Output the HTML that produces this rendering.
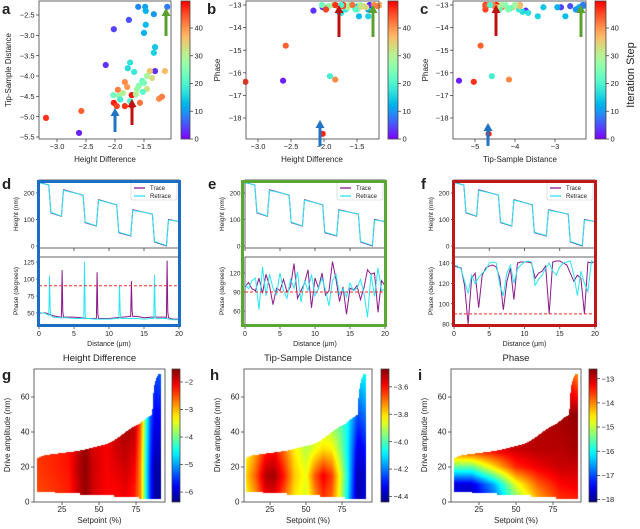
<!DOCTYPE html>
<html><head><meta charset="utf-8">
<style>
html,body{margin:0;padding:0;background:#fff;}
#wrap{position:relative;width:640px;height:529px;overflow:hidden;font-family:"Liberation Sans",sans-serif;}
svg{position:absolute;left:0;top:0;}
canvas{position:absolute;}
</style></head>
<body>
<div id="wrap">
<canvas id="hg" width="131" height="133" style="left:34px;top:369px"></canvas>
<canvas id="hh" width="128" height="133" style="left:244px;top:369px"></canvas>
<canvas id="hi" width="130" height="133" style="left:451px;top:369px"></canvas>
<svg id="fig" width="640" height="529" viewBox="0 0 640 529"></svg>
</div>
<script>
// ---------- scatter data (panels a-c) ----------
const heightDiff=[-3.19,-2.58,-2.62,-2.16,-2.02,-1.76,-1.6,-1.48,-1.47,-1.33,-1.1,-1.47,-1.5,-1.31,-1.33,-1.74,-1.78,-1.67,-1.31,-1.4,-1.14,-1.36,-1.45,-1.53,-1.83,-1.79,-1.59,-1.5,-1.45,-1.95,-1.62,-1.52,-2.03,-1.93,-1.86,-1.71,-1.64,-1.91,-2.02,-1.97,-1.83,-1.71,-1.57,-1.24,-1.19,-1.74];
const tipSample=[-5.03,-4.86,-5.4,-3.73,-2.85,-2.62,-2.3,-2.3,-2.4,-2.48,-2.3,-2.74,-2.94,-3.29,-3.43,-3.67,-3.81,-3.9,-3.88,-3.88,-3.88,-4.05,-4.0,-4.12,-4.15,-4.27,-4.24,-4.17,-4.32,-4.34,-4.32,-4.39,-4.47,-4.49,-4.42,-4.47,-4.45,-4.58,-4.66,-4.74,-4.74,-4.74,-4.66,-4.56,-4.51,-4.62];
const phaseVals=[-16.4,-14.8,-16.35,-13.25,-13.1,-13.05,-13.0,-13.05,-13.1,-13.2,-13.0,-13.5,-13.1,-13.1,-13.5,-13.35,-13.3,-13.2,-13.0,-13.05,-13.0,-13.1,-13.0,-13.15,-16.3,-13.05,-13.0,-13.2,-13.1,-13.1,-13.0,-13.2,-13.0,-13.05,-13.0,-13.0,-13.1,-16.15,-18.7,-13.2,-13.0,-13.05,-13.0,-13.0,-13.05,-13.0];
const iterStep=[46,43,2,3,4,5,9,11,12,10,8,13,12,14,15,17,16,18,3,35,36,33,28,22,40,39,25,24,32,41,27,21,23,26,30,48,29,19,47,45,46,44,42,40,41,20];
// ---------- trace data (panels d-f) ----------
const heightX=[0,1.4,1.7,3.2,3.5,6.3,6.6,8.2,8.5,11.1,11.4,13.1,13.4,16.2,16.5,18.2,18.5,20];
const heightTrace=[240,230,125,112,212,192,88,75,175,155,50,38,137,120,15,0,100,92];
const heightRetrace=[238,231,127,113,210,193,90,76,173,156,52,39,135,121,17,2,98,93];
const phaseDX=[0,1,2,3,4,5,6,7,8,9,10,11,12,13,14,15,16,17,18,19,20];
const phaseDTrace=[50,50,46,44,44,44,43,42,42,42,42,43,44,45,45,43,44,44,44,41,41];
const phaseDRetrace=[51,49,44,43,43,42,42,42,41,41,41,42,42,42,42,41,42,42,42,40,40];
const spikeTraceX=[3.3,8.3,13.2,18.3];
const spikeTraceY=[113,110,97,127];
const spikeRetraceX=[1.5,6.5,11.5,16.5];
const spikeRetraceY=[105,125,91,106];
const phaseEX=[0,0.5,1,1.5,2,2.5,3,3.5,4,4.5,5,5.5,6,6.5,7,7.5,8,8.5,9,9.5,10,10.5,11,11.5,12,12.5,13,13.5,14,14.5,15,15.5,16,16.5,17,17.5,18,18.5,19,19.5,20];
const phaseETrace=[98,105,95,92,112,88,118,100,70,96,92,110,90,98,135,80,92,104,125,65,112,96,120,85,92,138,110,75,98,55,96,93,100,78,97,125,118,120,58,108,100];
const phaseERetrace=[102,95,108,112,62,130,84,118,96,86,120,92,80,110,96,122,74,108,92,118,84,96,112,93,68,108,118,86,95,82,104,92,96,110,88,50,118,83,128,92,95];
const phaseFTrace=[137,136,135,118,80,125,130,96,128,135,137,138,136,125,94,122,135,104,140,141,141,141,140,125,130,132,137,90,141,142,142,140,138,130,122,128,125,90,141,140,141];
const phaseFRetrace=[138,137,134,122,110,128,120,126,130,133,140,141,140,118,108,130,138,120,134,138,141,142,141,118,124,128,135,140,132,128,136,140,141,142,128,108,132,120,112,142,140];
// ---------- heatmap data (panels g-i) ----------
const gSet=[8,20,30,36,41,46,55,62,68,74,78,80,82,85,88,92];
const gAmp=[0,20,45,75];
const gVals=[
 [-2.5,-2.4,-2.3,-1.9,-1.65,-1.95,-2.15,-2.2,-2.1,-2.3,-2.8,-3.6,-4.6,-5.6,-6.2,-6.2],
 [-2.4,-2.3,-2.2,-1.8,-1.6,-1.9,-2.1,-2.0,-1.9,-2.1,-2.8,-3.6,-4.6,-5.6,-6.2,-6.1],
 [-2.4,-2.3,-2.2,-1.9,-1.7,-2.0,-2.1,-1.8,-1.7,-1.8,-2.6,-3.4,-4.4,-5.4,-5.9,-5.8],
 [-2.4,-2.3,-2.2,-1.9,-1.7,-2.0,-2.1,-1.8,-1.7,-1.8,-2.6,-3.4,-4.4,-5.2,-5.4,-5.3]];
const hSet=[8,15,22,28,35,42,50,56,62,68,73,78,82,86,92];
const hAmp=[0,15,30,50,75];
const hVals=[
 [-3.85,-3.75,-3.6,-3.6,-3.7,-3.82,-3.88,-3.75,-3.65,-3.7,-3.85,-4.05,-4.25,-4.4,-4.35],
 [-3.8,-3.68,-3.52,-3.5,-3.62,-3.78,-3.85,-3.68,-3.58,-3.65,-3.82,-4.02,-4.22,-4.4,-4.35],
 [-3.85,-3.75,-3.62,-3.6,-3.7,-3.82,-3.9,-3.85,-3.8,-3.82,-3.92,-4.05,-4.2,-4.35,-4.3],
 [-3.9,-3.85,-3.8,-3.8,-3.85,-3.9,-3.95,-3.95,-3.95,-3.98,-4.0,-4.05,-4.15,-4.25,-4.2],
 [-3.9,-3.85,-3.8,-3.8,-3.85,-3.9,-3.95,-3.95,-3.95,-3.98,-4.0,-4.05,-4.1,-4.1,-4.05]];
const iSet=[8,20,35,50,65,80,92];
const iAmp=[0,10,20,30,50,75];
const iVals=[
 [-17.5,-17.8,-17.0,-15.5,-14.3,-13.6,-13.5],
 [-17.6,-17.6,-16.5,-14.8,-13.8,-13.3,-13.2],
 [-15.5,-15.5,-14.5,-13.5,-13.2,-13.0,-13.0],
 [-13.5,-13.3,-13.2,-13.0,-12.9,-12.9,-12.8],
 [-13.0,-13.0,-13.0,-13.0,-12.9,-12.8,-12.7],
 [-13.0,-13.0,-13.0,-13.0,-13.0,-13.2,-14.2]];
const envSet=[8,12,20,30,38,45,55,60,68,73,78,82,86,86.5,87.5,88.5,90,92];
const envTop=[25,26.5,27.5,28.5,29.5,31,33,35,40,43,45,48,50,60,67,70,73,73];
const envBotSet=[8,20,20.01,37,37.01,60,60.01,77,77.01,92];
const envBot=[6,6,5,5,4,4,3,3,2,2];

// ---------- helpers ----------
const NS='http://www.w3.org/2000/svg';
const svg=document.getElementById('fig');
function mk(tag,attrs,name,parent){
 const el=document.createElementNS(NS,tag);
 for(const k in attrs) el.setAttribute(k,attrs[k]);
 
 
 (parent||svg).appendChild(el);return el;}
function txt(x,y,s,name,o){o=o||{};
 const el=mk('text',{x:x,y:y,'font-size':o.fs||7.5,'text-anchor':o.anchor||'middle',fill:o.fill||'#222','font-weight':o.fw||'normal','font-family':'Liberation Sans, sans-serif'},name);
 if(o.rot) el.setAttribute('transform','rotate(-90 '+x+' '+y+')');
 el.textContent=s;return el;}
function lin(d0,d1,r0,r1){return v=>r0+(v-d0)*(r1-r0)/(d1-d0);}
function rainbow(t){t=Math.max(0,Math.min(1,t));return [Math.abs(2*t-0.5),Math.sin(Math.PI*t),Math.cos(Math.PI*t/2)].map(v=>Math.round(255*Math.max(0,Math.min(1,v))));}
function jet(t){t=Math.max(0,Math.min(1,t));const c=x=>Math.round(255*Math.max(0,Math.min(1,x)));return [c(1.5-Math.abs(4*t-3)),c(1.5-Math.abs(4*t-2)),c(1.5-Math.abs(4*t-1))];}
function rgb(a){return 'rgb('+a.join(',')+')';}
function interp(xs,ys,x){if(x<=xs[0])return ys[0];for(let i=1;i<xs.length;i++){if(x<=xs[i]){const t=(x-xs[i-1])/(xs[i]-xs[i-1]);return ys[i-1]+t*(ys[i]-ys[i-1]);}}return ys[ys.length-1];}
function box(x0,y0,x1,y1,name){mk('rect',{x:x0,y:y0,width:x1-x0,height:y1-y0,fill:'none',stroke:'#555','stroke-width':0.9},name);}
function xticks(vals,sx,y,name,labels,fs){vals.forEach((v,i)=>{mk('line',{x1:sx(v),x2:sx(v),y1:y,y2:y+3,stroke:'#444','stroke-width':0.8},name+'-tick');txt(sx(v),y+10,labels?labels[i]:String(v).replace('-','−'),name+'-label',{fs:fs||7.5});});}
function yticks(vals,sy,x,name,labels,fs){vals.forEach((v,i)=>{mk('line',{x1:x-3,x2:x,y1:sy(v),y2:sy(v),stroke:'#444','stroke-width':0.8},name+'-tick');txt(x-4.5,sy(v)+2.6,labels?labels[i]:String(v).replace('-','−'),name+'-label',{fs:fs||7.5,anchor:'end'});});}
function colorbar(x0,x1,y0,y1,cmap,name,ticks,sy,labels){
 const id='g'+name;const defs=mk('defs',{},name+'-defs');
 const g=mk('linearGradient',{id:id,x1:0,y1:1,x2:0,y2:0},name+'-gradient',defs);
 for(let i=0;i<=20;i++){mk('stop',{offset:(i/20),'stop-color':rgb(cmap(i/20))},name+'-stop',g);}
 mk('rect',{x:x0,y:y0,width:x1-x0,height:y1-y0,fill:'url(#'+id+')',stroke:'#444','stroke-width':0.8},name);
 ticks.forEach((v,i)=>{mk('line',{x1:x1,x2:x1+3,y1:sy(v),y2:sy(v),stroke:'#444','stroke-width':0.8},name+'-tick');txt(x1+4.5,sy(v)+2.6,labels[i],name+'-label',{anchor:'start'});});}
function arrow(x,yTail,yHead,color,name){mk('line',{x1:x,x2:x,y1:yTail,y2:yHead+7,stroke:color,'stroke-width':3},name);mk('polygon',{points:(x-4.5)+','+(yHead+8)+' '+(x+4.5)+','+(yHead+8)+' '+x+','+yHead,fill:color},name+'-head');}
function pl(pts,color,name,w,extra){const a={points:pts.map(p=>p[0].toFixed(2)+','+p[1].toFixed(2)).join(' '),fill:'none',stroke:color,'stroke-width':w||1};for(const k in extra||{})a[k]=extra[k];return mk('polyline',a,name);}

// ---------- panels a-c ----------
const colIter=lin(0,49,0,1);
function scatterPanel(id,xv,yv,sx,sy,x0,x1,clip){
 const cid='clip'+id;const defs=mk('defs',{},id+'-defs');
 const cp=mk('clipPath',{id:cid},id+'-clip',defs);mk('rect',{x:x0-3,y:0,width:x1-x0+6,height:142},id+'-cliprect',cp);
 const g=mk('g',{'clip-path':'url(#'+cid+')'},id+'-points');
 xv.forEach((v,i)=>{mk('circle',{cx:sx(v),cy:sy(yv[i]),r:3.1,fill:rgb(rainbow(colIter(iterStep[i])))},id+'-point',g);});
}
// a
const axA=lin(-2,-1.5,115,144), ayA=lin(-2.5,-5.5,15,137);
scatterPanel('panel-a',heightDiff,tipSample,axA,ayA,39,171);
box(39,1,171,139,'panel-a-axes');
xticks([-3,-2.5,-2,-1.5],axA,139,'panel-a-x',['−3.0','−2.5','−2.0','−1.5']);
yticks([-2.5,-3,-3.5,-4,-4.5,-5,-5.5],ayA,39,'panel-a-y',['−2.5','−3.0','−3.5','−4.0','−4.5','−5.0','−5.5']);
txt(105,162,'Height Difference','panel-a-x-title',{fs:8});
txt(11,70,'Tip-Sample Distance','panel-a-y-title',{fs:8,rot:1});
const cbY=lin(0,40,139,28);
colorbar(181,190,1,139,rainbow,'panel-a-colorbar',[0,10,20,30,40],cbY,['0','10','20','30','40']);
arrow(115,132,108,'#1f74c4','panel-a-blue-arrow');arrow(132,125,99,'#c01010','panel-a-red-arrow');arrow(166,36,8,'#5aa02c','panel-a-green-arrow');
txt(2,14,'a','panel-a-letter',{fs:15,fw:'bold',anchor:'start'});
// b
const axB=lin(-1.5,-3,357,258), ayB=lin(-13,-18,5,118);
scatterPanel('panel-b',heightDiff,phaseVals,axB,ayB,246,379);
box(246,1,379,139,'panel-b-axes');
xticks([-3,-2.5,-2,-1.5],axB,139,'panel-b-x',['−3.0','−2.5','−2.0','−1.5']);
yticks([-13,-14,-15,-16,-17,-18],ayB,246,'panel-b-y');
txt(312,162,'Height Difference','panel-b-x-title',{fs:8});
txt(220,70,'Phase','panel-b-y-title',{fs:8,rot:1});
colorbar(388,398,1,139,rainbow,'panel-b-colorbar',[0,10,20,30,40],cbY,['0','10','20','30','40']);
arrow(320,146,120,'#1f74c4','panel-b-blue-arrow');arrow(339,37,5,'#c01010','panel-b-red-arrow');arrow(373,37,5,'#5aa02c','panel-b-green-arrow');
txt(207,14,'b','panel-b-letter',{fs:15,fw:'bold',anchor:'start'});
// c
const axC=lin(-5,-3,475,555);
scatterPanel('panel-c',tipSample,phaseVals,axC,ayB,453,586);
box(453,1,586,139,'panel-c-axes');
xticks([-5,-4,-3],axC,139,'panel-c-x');
yticks([-13,-14,-15,-16,-17,-18],ayB,453,'panel-c-y');
txt(520,162,'Tip-Sample Distance','panel-c-x-title',{fs:8});
txt(428,70,'Phase','panel-c-y-title',{fs:8,rot:1});
colorbar(595,606,1,139,rainbow,'panel-c-colorbar',[0,10,20,30,40],cbY,['0','10','20','30','40']);
txt(634,75,'Iteration Step','colorbar-title',{fs:11,rot:1});
arrow(488,146,123,'#1f74c4','panel-c-blue-arrow');arrow(496,36,5,'#c01010','panel-c-red-arrow');arrow(581,37,5,'#5aa02c','panel-c-green-arrow');
txt(420,14,'c','panel-c-letter',{fs:15,fw:'bold',anchor:'start'});

// ---------- panels d-f ----------
function spiky(baseX,baseY,sX,sY){const pts=[];const all=[];baseX.forEach((x,i)=>all.push([x,baseY[i]]));
 sX.forEach((x,i)=>{const b=interp(baseX,baseY,x);all.push([x-0.1,b]);all.push([x,sY[i]]);all.push([x+0.1,b+8]);all.push([x+0.2,b]);});
 all.sort((a,b)=>a[0]-b[0]);return all;}
function tracePanel(id,x0,x1,border,bcol,phaseTicks,sp,hTr,hRe,pTr,pRe,pX,letterX){
 const sx=lin(0,20,x0,x1), sh=lin(0,200,246,193);
 const cid='clip'+id;const defs=mk('defs',{},id+'-defs');
 const c1=mk('clipPath',{id:cid+'t'},id+'-clip-top',defs);mk('rect',{x:x0,y:180,width:x1-x0,height:68},id+'-cr1',c1);
 const c2=mk('clipPath',{id:cid+'b'},id+'-clip-bottom',defs);mk('rect',{x:x0,y:257,width:x1-x0,height:69},id+'-cr2',c2);
 const gt=mk('g',{'clip-path':'url(#'+cid+'t)'},id+'-height-lines');
 pl(heightX.map((x,i)=>[sx(x),sh(hTr[i])]),'#8b1a8b',id+'-height-trace',gt,1.1);
 pl(heightX.map((x,i)=>[sx(x),sh(hRe[i])]),'#2ae6f2',id+'-height-retrace',gt,1.1);
 box(x0,180,x1,248,id+'-height-axes');box(x0,257,x1,326,id+'-phase-axes');
 [0,5,10,15].forEach(v=>mk('line',{x1:sx(v),x2:sx(v),y1:248,y2:251,stroke:'#444','stroke-width':0.8},id+'-height-xtick'));
 yticks([0,100,200],sh,x0,id+'-height-y',null,6.5);
 const gb=mk('g',{'clip-path':'url(#'+cid+'b)'},id+'-phase-lines');
 pl(pTr.map(p=>[sx(p[0]),sp(p[1])]),'#8b1a8b',id+'-phase-trace',gb,1);
 pl(pRe.map(p=>[sx(p[0]),sp(p[1])]),'#2ae6f2',id+'-phase-retrace',gb,1);
 mk('line',{x1:x0,x2:x1,y1:sp(90),y2:sp(90),stroke:'#ff2a2a','stroke-width':1,'stroke-dasharray':'3,2'},id+'-threshold-line');
 yticks(phaseTicks,sp,x0,id+'-phase-y',null,6.5);
 xticks([0,5,10,15,20],sx,326,id+'-x',null,7);
 txt((x0+x1)/2,346,'Distance (μm)','',{fs:7});
 
 txt(x0-21,214,'Height (nm)',id+'-height-title',{fs:6.5,rot:1});
 txt(x0-21,291,'Phase (degrees)',id+'-phase-title',{fs:6.5,rot:1});
 // legend
 const lx=x1-48;mk('rect',{x:lx,y:182,width:46,height:18,fill:'#fff',stroke:'#ccc','stroke-width':0.6,rx:1.5},id+'-legend');
 mk('line',{x1:lx+3,x2:lx+14,y1:188,y2:188,stroke:'#8b1a8b','stroke-width':1.3},id+'-legend-trace-swatch');
 txt(lx+19,190.2,'Trace',id+'-legend-trace',{fs:6,anchor:'start'});
 mk('line',{x1:lx+3,x2:lx+14,y1:196,y2:196,stroke:'#2ae6f2','stroke-width':1.3},id+'-legend-retrace-swatch');
 txt(lx+19,198.2,'Retrace',id+'-legend-retrace',{fs:6,anchor:'start'});
 mk('rect',border,id+'-border').setAttribute('style','fill:none;stroke:'+bcol+';stroke-width:3');
 txt(letterX,189,id.slice(-1),id+'-letter',{fs:15,fw:'bold',anchor:'start'});
}
const spD=lin(50,125,313,262), spE=lin(90,120,292,273), spF=lin(140,80,263,324);
tracePanel('panel-d',39,179,{x:38.5,y:181.5,width:141,height:144},'#1a6fc4',[50,75,100,125],spD,heightTrace,heightRetrace,
 spiky(phaseDX,phaseDTrace,spikeTraceX,spikeTraceY),spiky(phaseDX,phaseDRetrace,spikeRetraceX,spikeRetraceY),phaseDX,2);
const fHTr=heightTrace.slice(), fHRe=heightRetrace.slice();
tracePanel('panel-e',245,385,{x:242.5,y:181.5,width:143,height:144},'#5aa832',[60,90,120],spE,heightTrace,heightRetrace,
 phaseEX.map((x,i)=>[x,phaseETrace[i]]),phaseEX.map((x,i)=>[x,phaseERetrace[i]]),phaseEX,208);
tracePanel('panel-f',454,595,{x:453.5,y:181.5,width:142,height:144},'#c0171b',[80,100,120,140],spF,fHTr,fHRe,
 phaseEX.map((x,i)=>[x,phaseFTrace[i]]),phaseEX.map((x,i)=>[x,phaseFRetrace[i]]),phaseEX,421);

// ---------- panels g-i ----------
function grid(S,A,V,s,a){const row=A.map((_,j)=>interp(S,V[j],s));return interp(A,row,a);}
function heat(cid,S,A,V,s0,pxPerUnit,vmin,vmax){
 const cv=document.getElementById(cid),ctx=cv.getContext('2d');const w=cv.width,h=cv.height;
 const left=parseFloat(cv.style.left),top=parseFloat(cv.style.top);
 const img=ctx.createImageData(w,h);
 for(let py=0;py<h;py++){const a=(502-(top+py+0.5))/1.75;
  for(let px=0;px<w;px++){const s=(left+px+0.5-s0)/pxPerUnit;
   if(s<8||s>92)continue;if(a>interp(envSet,envTop,s)||a<interp(envBotSet,envBot,s))continue;
   const v=grid(S,A,V,s,a);const c=jet((v-vmin)/(vmax-vmin));const k=(py*w+px)*4;
   img.data[k]=c[0];img.data[k+1]=c[1];img.data[k+2]=c[2];img.data[k+3]=255;}}
 ctx.putImageData(img,0,0);}
heat('hg',gSet,gAmp,gVals,25,1.48,-6.36,-1.53);
heat('hh',hSet,hAmp,hVals,234,1.44,-4.44,-3.47);
heat('hi',iSet,iAmp,iVals,442,1.48,-18.1,-12.6);
const ayH=lin(0,60,502,397);
function heatAxes(id,x0,x1,s0,ppu,title,letterX,cbx,cbTicks,cbMin,cbMax,cbLabels){
 box(x0,369,x1,502,id+'-axes');
 const sx=v=>s0+v*ppu;
 xticks([25,50,75],sx,502,id+'-x',null,8);
 yticks([0,20,40,60],ayH,x0,id+'-y',null,8);
 txt((x0+x1)/2,523,'Setpoint (%)',id+'-x-title',{fs:8});
 txt(x0-24,435,'Drive amplitude (nm)',id+'-y-title',{fs:8,rot:1});
 txt((x0+x1)/2,361,title,id+'-title',{fs:9.5});
 txt(letterX,380,id.slice(-1),id+'-letter',{fs:15,fw:'bold',anchor:'start'});
 colorbar(cbx,cbx+8,369,502,jet,id+'-colorbar',cbTicks,lin(cbMin,cbMax,502,369),cbLabels);
}
heatAxes('panel-g',34,165,25,1.48,'Height Difference',2,172,[-2,-3,-4,-5,-6],-6.36,-1.53,['−2','−3','−4','−5','−6']);
heatAxes('panel-h',244,372,234,1.44,'Tip-Sample Distance',210,381,[-3.6,-3.8,-4.0,-4.2,-4.4],-4.44,-3.47,['−3.6','−3.8','−4.0','−4.2','−4.4']);
heatAxes('panel-i',451,581,442,1.48,'Phase',418,589,[-13,-14,-15,-16,-17,-18],-18.1,-12.6,['−13','−14','−15','−16','−17','−18']);
</script>
</body></html>
